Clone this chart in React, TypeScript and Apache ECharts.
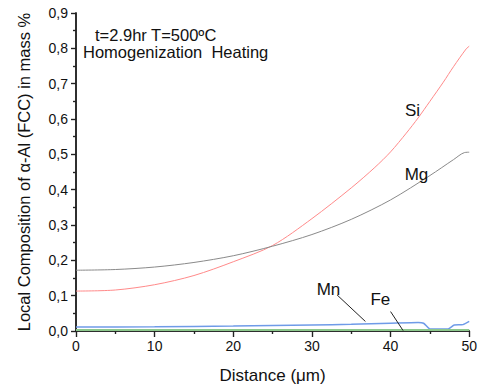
import React, { useEffect, useRef } from "react";
import * as echarts from "echarts";

// Distances (μm) and compositions (mass %)
const siX = [0, 5, 10, 15, 20, 25, 30, 35, 38, 40, 42, 43.5, 45, 46.7, 48, 49.6, 50];
const siY = [0.113, 0.116, 0.131, 0.157, 0.196, 0.242, 0.318, 0.405, 0.463, 0.507, 0.56, 0.603, 0.65, 0.704, 0.748, 0.798, 0.806];

const mgX = [0, 5, 10, 15, 20, 25, 30, 35, 40, 45, 48, 49.4, 50];
const mgY = [0.172, 0.174, 0.181, 0.194, 0.213, 0.24, 0.273, 0.316, 0.371, 0.44, 0.485, 0.505, 0.506];

const mnX = [0, 10, 20, 30, 35, 40, 43.5, 44.2, 45, 47.3, 48.1, 49.2, 50];
const mnY = [0.011, 0.012, 0.014, 0.017, 0.019, 0.022, 0.024, 0.022, 0.006, 0.006, 0.017, 0.018, 0.027];

const feX = [0, 50];
const feY = [0.003, 0.003];

const xTicks = { min: 0, max: 50, interval: 10 };
const yTicks = { min: 0, max: 0.9, interval: 0.1 };

// annotation anchors (data coordinates)
const labelNames = ["Si", "Mg", "Mn", "Fe"];
const labelX = [42.8, 43.3, 32.1, 38.7];
const labelY = [0.625, 0.442, 0.118, 0.089];
const arrowFromX = [33.2, 40.0];
const arrowFromY = [0.102, 0.055];
const arrowToX = [36.8, 41.6];
const arrowToY = [0.027, 0.001];

const FONT = "'Liberation Sans', Arial, sans-serif";

const zip = (xs: number[], ys: number[]) => xs.map((x, i) => [x, ys[i]]);

export default function App() {
  const ref = useRef<HTMLDivElement>(null);
  useEffect(() => {
    if (!ref.current) return;
    const chart = echarts.init(ref.current, null, { renderer: "svg" });
    const axisLine = { show: true, lineStyle: { color: "#222", width: 1.5 } };
    const tickStyle = { color: "#222", width: 1.2 };
    const option: any = {
      animation: false,
      backgroundColor: "#fff",
      grid: { left: 76, right: 6, top: 13, bottom: 56 },
      xAxis: [
        {
          type: "value",
          ...xTicks,
          position: "bottom",
          name: "Distance (μm)",
          nameLocation: "middle",
          nameGap: 36,
          nameTextStyle: { fontFamily: FONT, fontSize: 17, color: "#111" },
          axisLine,
          axisTick: { show: true, inside: false, length: 6, lineStyle: tickStyle },
          minorTick: { show: true, splitNumber: 2, length: 3, lineStyle: tickStyle },
          axisLabel: { fontFamily: FONT, fontSize: 14, color: "#111", margin: 8 },
          splitLine: { show: false },
        },
        {
          type: "value",
          ...xTicks,
          position: "top",
          axisLine,
          axisTick: { show: true, inside: true, length: 6, lineStyle: tickStyle },
          minorTick: { show: true, splitNumber: 2, length: 3, lineStyle: tickStyle },
          axisLabel: { show: false },
          splitLine: { show: false },
        },
      ],
      yAxis: [
        {
          type: "value",
          ...yTicks,
          position: "left",
          name: "Local Composition of α-Al (FCC) in mass %",
          nameLocation: "middle",
          nameGap: 44,
          nameTextStyle: { fontFamily: FONT, fontSize: 16.5, color: "#111" },
          axisLine,
          axisTick: { show: true, inside: false, length: 5, lineStyle: tickStyle },
          minorTick: { show: true, splitNumber: 2, length: 3, lineStyle: tickStyle },
          axisLabel: {
            fontFamily: FONT,
            fontSize: 14,
            color: "#111",
            margin: 8,
            formatter: (v: number) => v.toFixed(1).replace(".", ","),
          },
          splitLine: { show: false },
        },
        {
          type: "value",
          ...yTicks,
          position: "right",
          axisLine,
          axisTick: { show: true, inside: true, length: 5, lineStyle: tickStyle },
          minorTick: { show: true, splitNumber: 2, length: 3, lineStyle: tickStyle },
          axisLabel: { show: false },
          splitLine: { show: false },
        },
      ],
      series: [
        {
          name: "Si",
          type: "line",
          data: zip(siX, siY),
          smooth: 0.3,
          showSymbol: false,
          lineStyle: { color: "#ff8a8a", width: 1 },
          markPoint: {
            symbol: "rect",
            symbolSize: 1,
            itemStyle: { color: "rgba(0,0,0,0)" },
            label: { show: true, position: "inside", fontFamily: FONT, fontSize: 17, color: "#111", formatter: (p: any) => p.name },
            data: labelNames.map((n, i) => ({ name: n, coord: [labelX[i], labelY[i]] })),
          },
        },
        {
          name: "Mg",
          type: "line",
          data: zip(mgX, mgY),
          smooth: 0.3,
          showSymbol: false,
          lineStyle: { color: "#8a8a8a", width: 1 },
        },
        {
          name: "Mn",
          type: "line",
          data: zip(mnX, mnY),
          smooth: 0.2,
          showSymbol: false,
          lineStyle: { color: "#6f9be8", width: 1.5 },
          markLine: {
            silent: true,
            symbol: ["none", "arrow"],
            symbolSize: [0, 7],
            label: { show: false },
            lineStyle: { color: "#222", width: 1, type: "solid" },
            data: arrowFromX.map((x, i) => [
              { coord: [x, arrowFromY[i]] },
              { coord: [arrowToX[i], arrowToY[i]] },
            ]),
          },
        },
        {
          name: "Fe",
          type: "line",
          data: zip(feX, feY),
          showSymbol: false,
          lineStyle: { color: "#8cc88c", width: 2 },
        },
      ],
      graphic: [
        {
          type: "text",
          left: 95,
          top: 26,
          style: { text: "t=2.9hr T=500ºC", font: `16.5px ${FONT}`, fill: "#111" },
        },
        {
          type: "text",
          left: 83,
          top: 43,
          style: { text: "Homogenization  Heating", font: `16.5px ${FONT}`, fill: "#111" },
        },
      ],
    };
    chart.setOption(option);
    return () => chart.dispose();
  }, []);
  return (
    <div
      ref={ref}
      style={{ position: "fixed", left: 0, top: 0, width: 480, height: 389, background: "#fff" }}
    />
  );
}
